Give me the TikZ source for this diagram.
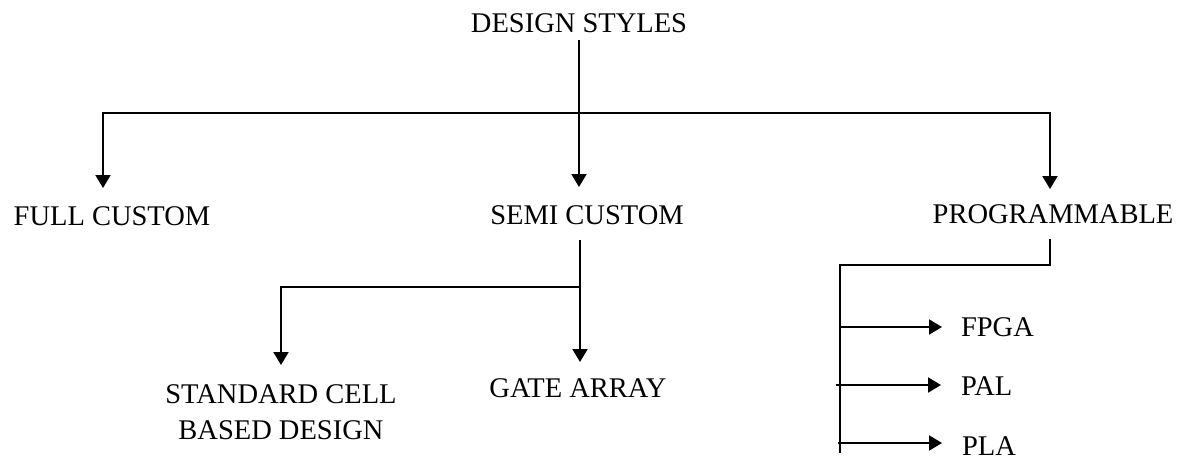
\documentclass[tikz,border=0pt]{standalone}
\usepackage{fontspec}
\setmainfont{Liberation Serif}
\usetikzlibrary{arrows.meta}

\tikzset{
  lbl/.style={inner sep=0pt, outer sep=0pt, anchor=base,
              font=\fontsize{28.5}{36}\selectfont},
  ln/.style={line width=1.5pt, line cap=rect},
  arr/.style={line width=2pt, -{Triangle[width=15pt,length=13pt]}},
}

\begin{document}
\begin{tikzpicture}[x=1pt,y=-1pt]
\useasboundingbox[fill=white] (0,0) rectangle (1187,459);

% labels
\node[lbl] (ds) at (579,32) {DESIGN STYLES};
\node[lbl] (fc) at (112,225) {FULL CUSTOM};
\node[lbl] (sc) at (587,224) {SEMI CUSTOM};
\node[lbl] (pg) at (1053,223) {PROGRAMMABLE};
\node[lbl, anchor=center, align=center] (sb) at (281,412.5) {STANDARD CELL\\BASED DESIGN};
\node[lbl] (ga) at (578,397) {GATE ARRAY};
\node[lbl, anchor=base west] (fpga) at (961,336) {FPGA};
\node[lbl, anchor=base west] (pal) at (961,395) {PAL};
\node[lbl, anchor=base west] (pla) at (962,455) {PLA};

% junction points of the top level
\coordinate (dsOut) at (579,40);
\coordinate (scIn) at (579,187);
\coordinate (fcBend) at (103,113);
\coordinate (fcIn) at (103,188);
\coordinate (pgBend) at (1050,113);
\coordinate (pgIn) at (1050,189);

\draw[ln] (fcBend) -- (pgBend);
\draw[arr] (dsOut) -- (scIn);
\draw[arr] (fcBend) -- (fcIn);
\draw[arr] (pgBend) -- (pgIn);

% semi custom branch
\coordinate (scOut) at (580,240);
\coordinate (scBend) at (580,287);
\coordinate (gaIn) at (580,362);
\coordinate (sbBend) at (281,287);
\coordinate (sbIn) at (281,365);

\draw[ln] (sbBend) -- (scBend);
\draw[arr] (scOut) -- (gaIn);
\draw[arr] (sbBend) -- (sbIn);

% programmable branch
\coordinate (pgOut) at (1050,240);
\coordinate (pgBend2) at (1050,265);
\coordinate (busTop) at (840,265);
\coordinate (busEnd) at (840,452);
\coordinate (fpgaFrom) at (840,327);
\coordinate (fpgaIn) at (942,327);
\coordinate (palFrom) at (836,385);
\coordinate (palIn) at (941,385);
\coordinate (plaFrom) at (838,443);
\coordinate (plaIn) at (942,443);

\draw[ln] (pgOut) -- (pgBend2) -- (busTop) -- (busEnd);
\draw[arr] (fpgaFrom) -- (fpgaIn);
\draw[arr] (palFrom) -- (palIn);
\draw[arr] (plaFrom) -- (plaIn);
\end{tikzpicture}
\end{document}
